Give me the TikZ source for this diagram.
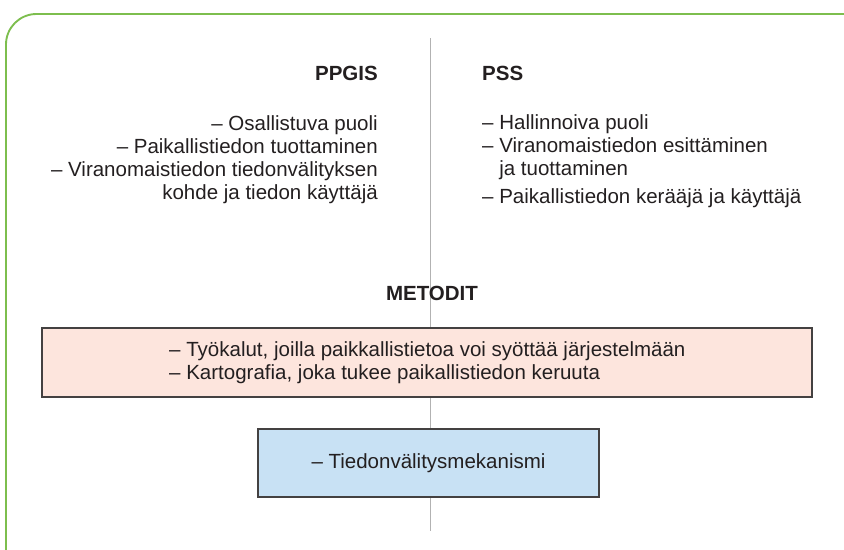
\documentclass[tikz,border=0pt]{standalone}
\usepackage{fontspec}
\setmainfont{Liberation Sans}
\usepackage{xcolor}
\usetikzlibrary{positioning,calc}
\definecolor{frame}{HTML}{7DBE4E}
\definecolor{ink}{HTML}{231F20}
\definecolor{pinkfill}{HTML}{FDE5DD}
\definecolor{bluefill}{HTML}{C8E1F4}

\begin{document}
\begin{tikzpicture}[x=0.03cm,y=-0.03cm,
  font=\fontsize{17.5}{19.6}\selectfont,text=ink,
  hd/.style={font=\fontsize{17.5}{19.6}\selectfont\bfseries,inner sep=0pt},
  lst/.style={inner sep=0pt},
  box/.style={draw=ink!85,line width=1.2pt,inner sep=0pt}]
\useasboundingbox (0,0) rectangle (844,549);
\draw[frame,line width=1.6pt,rounded corners=26pt] (6,600) -- (6,14) -- (900,14);
\coordinate (top) at (430,38);
\coordinate (bot) at (430,531);
\draw[black!30,line width=0.8pt] (top) -- (bot);
\node[hd,anchor=east] (ppgis) at (378,73) {PPGIS};
\node[hd,anchor=west] (pss) at (482,73) {PSS};
\node[lst,anchor=base east,align=right] (left) at (378,199)
  {– Osallistuva puoli\\– Paikallistiedon tuottaminen\\– Viranomaistiedon tiedonvälityksen\\kohde ja tiedon käyttäjä};
\node[lst,anchor=base west,align=left] (right) at (482,203)
  {– Hallinnoiva puoli\\– Viranomaistiedon esittäminen\\\phantom{– }ja tuottaminen\\[4pt]– Paikallistiedon kerääjä ja käyttäjä};
\node[hd] (met) at (432,293) {METODIT};
\node[box,fill=pinkfill,minimum width=770*0.03cm,minimum height=69*0.03cm] (tools) at (427,362.5) {};
\node[lst,anchor=west,align=left] (toolstxt) at (169,362.5)
  {– Työkalut, joilla paikkallistietoa voi syöttää järjestelmään\\– Kartografia, joka tukee paikallistiedon keruuta};
\node[box,fill=bluefill,minimum width=341*0.03cm,minimum height=68*0.03cm] (mech) at (428.5,463) {– Tiedonvälitysmekanismi};
\end{tikzpicture}
\end{document}
